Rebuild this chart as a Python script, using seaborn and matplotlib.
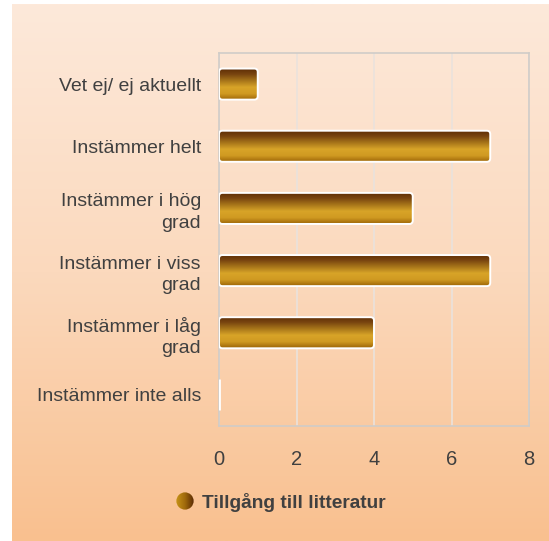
import numpy as np
import pandas as pd
import matplotlib
matplotlib.use("Agg")
import matplotlib.pyplot as plt
import seaborn as sns
from matplotlib.colors import LinearSegmentedColormap
from matplotlib.patches import FancyBboxPatch, Circle, Rectangle

categories = ["Vet ej/ ej aktuellt", "Instämmer helt", "Instämmer i hög\ngrad",
              "Instämmer i viss\ngrad", "Instämmer i låg\ngrad", "Instämmer inte alls"]
values = [1, 7, 5, 7, 4, 0]
series_name = "Tillgång till litteratur"
xticks = [0, 2, 4, 6, 8]

sns.set_theme(style="white")
plt.rcParams['font.family'] = ['Liberation Sans', 'DejaVu Sans']

W, H = 549, 541
fig = plt.figure(figsize=(W / 100, H / 100), dpi=100)
fig.patch.set_facecolor("white")

# background gradient panel
bg = fig.add_axes([12 / W, 0, 1 - 12 / W, (H - 4) / H], zorder=0)
bg_cmap = LinearSegmentedColormap.from_list("bg", ["#FDE9DA", "#FBD9BD", "#F9C08F"])
grad = np.linspace(0, 1, 256).reshape(-1, 1)
bg.imshow(grad, aspect="auto", cmap=bg_cmap, extent=[0, 1, 0, 1], origin="upper")
bg.set_axis_off()

ax = fig.add_axes([219 / W, 1 - 426 / H, (529 - 219) / W, (426 - 53) / H], zorder=1)
ax.patch.set_alpha(0)

df = pd.DataFrame({"cat": categories, "val": values})
sns.barplot(data=df, x="val", y="cat", orient="h", width=0.5, color="#B07A10", ax=ax)

bar_cmap = LinearSegmentedColormap.from_list(
    "bar", ["#5A2A04", "#7A4610", "#A8761A", "#D8A428", "#D09A22", "#9C6406"])
vgrad = np.linspace(0, 1, 256).reshape(-1, 1)

patches = list(ax.patches)
for p in patches:
    x0, y0 = p.get_x(), p.get_y()
    w, h = p.get_width(), p.get_height()
    p.set_visible(False)
    if w > 0:
        box = FancyBboxPatch((x0, y0), w, h,
                             boxstyle="round,pad=0,rounding_size=0.09",
                             mutation_aspect=0.63,
                             facecolor="none", edgecolor="white", linewidth=1.4, zorder=4)
        ax.add_patch(box)
        # axis is inverted: y0 is the top edge on screen
        im = ax.imshow(vgrad, aspect="auto", cmap=bar_cmap,
                       extent=[x0, x0 + w, y0 + h, y0], origin="upper", zorder=3)
        clip = FancyBboxPatch((x0, y0), w, h,
                              boxstyle="round,pad=0,rounding_size=0.09",
                              mutation_aspect=0.63, facecolor="none",
                              edgecolor="none", transform=ax.transData)
        im.set_clip_path(clip)
    else:
        ax.add_patch(Rectangle((x0, y0), 0, h, facecolor="none",
                               edgecolor="white", linewidth=2.0, zorder=4))

ax.set_xlim(0, 8)
ax.set_ylim(5.5, -0.5)
ax.set_xticks(xticks)
ax.set_xticklabels([str(t) for t in xticks])
ax.set_xlabel("")
ax.set_ylabel("")
ax.xaxis.grid(True, color="#EAE2DC", linewidth=1.2)
ax.set_axisbelow(True)
for s in ax.spines.values():
    s.set_visible(True)
    s.set_color("#D0CCC8")
    s.set_linewidth(1.2)
ax.tick_params(axis="x", length=0, pad=17, labelsize=14.5, labelcolor="#404040")
ax.tick_params(axis="y", length=0, pad=13, labelsize=14, labelcolor="#404040")
for lbl in ax.get_yticklabels():
    lbl.set_horizontalalignment("right")
    lbl.set_multialignment("right")
    lbl.set_linespacing(1.35)

# legend
lax = fig.add_axes([176 / W, 1 - 510 / H, 18 / W, 18 / H], zorder=2)
lax.set_xlim(0, 1)
lax.set_ylim(0, 1)
lax.set_axis_off()
leg_cmap = LinearSegmentedColormap.from_list("leg", ["#C89418", "#A06A0C", "#5A2A04"])
hgrad = np.linspace(0, 1, 256).reshape(1, -1)
lim = lax.imshow(hgrad, aspect="auto", cmap=leg_cmap, extent=[0, 1, 0, 1])
circ = Circle((0.5, 0.5), 0.48, transform=lax.transData)
lim.set_clip_path(circ)
fig.text(202 / W, 1 - 502 / H, series_name, fontsize=13.8, fontweight="bold",
         color="#404040", ha="left", va="center")

fig.savefig("out.png", dpi=100)
